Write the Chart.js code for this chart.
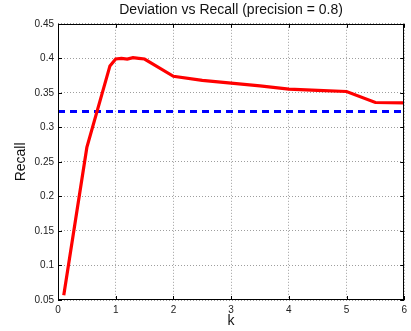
<!DOCTYPE html>
<html>
<head>
<meta charset="utf-8">
<script src="https://cdn.jsdelivr.net/npm/chart.js@4/dist/chart.umd.min.js"></script>
<style>
html,body{margin:0;padding:0;background:#fff;}
#wrap{width:411px;height:331px;}
</style>
</head>
<body>
<div id="wrap"><canvas id="c" width="411" height="331"></canvas></div>
<script>
const kValues = [0.1, 0.5, 0.9, 1.0, 1.1, 1.2, 1.3, 1.4, 1.5, 2.0, 2.5, 3.0, 3.5, 4.0, 4.5, 5.0, 5.5, 6.0];
const recallValues = [0.057, 0.271, 0.389, 0.399, 0.400, 0.399, 0.401, 0.400, 0.399, 0.374, 0.368, 0.364, 0.360, 0.3555, 0.3536, 0.352, 0.336, 0.3355];
const baselineK = [0, 6];
const baselineRecall = [0.323, 0.323];
const xTicks = [0, 1, 2, 3, 4, 5, 6];
const yTicks = [0.05, 0.1, 0.15, 0.2, 0.25, 0.3, 0.35, 0.4, 0.45];
const yTickLabels = ['0.05', '0.1', '0.15', '0.2', '0.25', '0.3', '0.35', '0.4', '0.45'];

const FONT = "'Liberation Sans', Arial, Helvetica, sans-serif";

const boxPlugin = {
  id: 'boxPlugin',
  afterDraw(chart) {
    const {ctx, chartArea: a, scales} = chart;
    ctx.save();
    ctx.strokeStyle = '#000';
    ctx.lineWidth = 1;
    ctx.setLineDash([]);
    ctx.strokeRect(Math.round(a.left) + 0.5, Math.round(a.top) + 0.5,
      Math.round(a.right - a.left) - 1, Math.round(a.bottom - a.top) - 1);
    const L = 4;
    ctx.beginPath();
    xTicks.forEach(v => {
      const x = Math.round(scales.x.getPixelForValue(v)) + 0.5;
      ctx.moveTo(x, a.bottom); ctx.lineTo(x, a.bottom - L);
      ctx.moveTo(x, a.top); ctx.lineTo(x, a.top + L);
    });
    yTicks.forEach(v => {
      const y = Math.round(scales.y.getPixelForValue(v)) + 0.5;
      ctx.moveTo(a.left, y); ctx.lineTo(a.left + L, y);
      ctx.moveTo(a.right, y); ctx.lineTo(a.right - L, y);
    });
    ctx.stroke();
    ctx.restore();
  }
};

new Chart(document.getElementById('c'), {
  type: 'line',
  data: {
    datasets: [
      {
        label: 'Recall',
        data: kValues.map((k, i) => ({x: k, y: recallValues[i]})),
        borderColor: '#ff0000',
        borderWidth: 3.2,
        pointRadius: 0,
        tension: 0,
        fill: false
      },
      {
        label: 'Baseline',
        data: baselineK.map((k, i) => ({x: k, y: baselineRecall[i]})),
        borderColor: '#0000ff',
        borderWidth: 3,
        borderDash: [7, 5],
        pointRadius: 0,
        tension: 0,
        fill: false
      }
    ]
  },
  options: {
    responsive: false,
    animation: false,
    devicePixelRatio: 1,
    layout: {padding: {left: 0, right: 3, top: 0, bottom: 0}},
    plugins: {
      legend: {display: false},
      tooltip: {enabled: false},
      title: {
        display: true,
        fullSize: false,
        text: 'Deviation vs Recall (precision = 0.8)',
        color: '#111',
        font: {family: FONT, size: 14, weight: 'normal', lineHeight: 1.2},
        padding: {top: 2, bottom: 5}
      }
    },
    scales: {
      x: {
        type: 'linear',
        min: 0, max: 6,
        afterBuildTicks: s => { s.ticks = xTicks.map(v => ({value: v})); },
        afterFit: s => { s.height = 31; },
        ticks: {
          color: '#222',
          font: {family: FONT, size: 10},
          padding: 4,
          maxRotation: 0,
          callback: v => String(v)
        },
        grid: {color: 'rgba(0,0,0,0.38)', lineWidth: 1, drawTicks: false},
        border: {display: false, dash: [1, 2]},
        title: {
          display: true, text: 'k', color: '#111',
          font: {family: FONT, size: 14, lineHeight: 1.2},
          padding: {top: 0, bottom: 1}
        }
      },
      y: {
        type: 'linear',
        min: 0.05, max: 0.45,
        afterBuildTicks: s => { s.ticks = yTicks.map(v => ({value: v})); },
        afterFit: s => { s.width = 58; },
        ticks: {
          color: '#222',
          font: {family: FONT, size: 10},
          padding: 4,
          callback: (v) => { const i = yTicks.findIndex(t => Math.abs(t - v) < 1e-9); return i >= 0 ? yTickLabels[i] : ''; }
        },
        grid: {color: 'rgba(0,0,0,0.38)', lineWidth: 1, drawTicks: false},
        border: {display: false, dash: [1, 2]},
        title: {
          display: true, text: 'Recall', color: '#111',
          font: {family: FONT, size: 14, lineHeight: 1.2},
          padding: {top: 13, bottom: 0}
        }
      }
    }
  },
  plugins: [boxPlugin]
});
</script>
</body>
</html>
